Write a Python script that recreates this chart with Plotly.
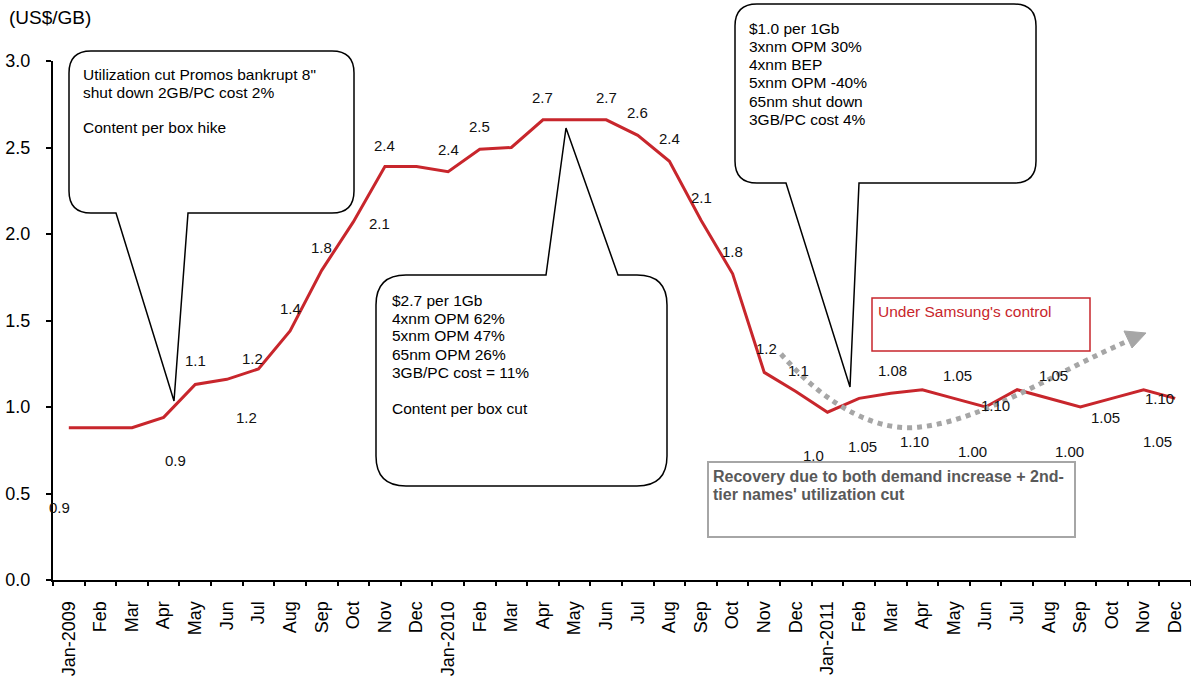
import plotly.graph_objects as go

# Monthly DRAM contract price, US$ per GB, Jan-2009 .. Dec-2011
months = ["Jan-2009", "Feb", "Mar", "Apr", "May", "Jun", "Jul", "Aug", "Sep", "Oct", "Nov", "Dec",
          "Jan-2010", "Feb", "Mar", "Apr", "May", "Jun", "Jul", "Aug", "Sep", "Oct", "Nov", "Dec",
          "Jan-2011", "Feb", "Mar", "Apr", "May", "Jun", "Jul", "Aug", "Sep", "Oct", "Nov", "Dec"]
price = [0.88, 0.88, 0.88, 0.94, 1.13, 1.16, 1.22, 1.44, 1.79, 2.07, 2.39, 2.39,
         2.36, 2.49, 2.50, 2.66, 2.66, 2.66, 2.57, 2.42, 2.08, 1.77, 1.20, 1.09,
         0.97, 1.05, 1.08, 1.10, 1.05, 1.00, 1.10, 1.05, 1.00, 1.05, 1.10, 1.05]

y_ticks = [0.0, 0.5, 1.0, 1.5, 2.0, 2.5, 3.0]

callout_left = ["Utilization cut Promos bankrupt 8\"", "shut down 2GB/PC cost 2%", "", "Content per box hike"]
callout_mid = ["$2.7 per 1Gb", "4xnm OPM 62%", "5xnm OPM 47%", "65nm OPM 26%", "3GB/PC cost = 11%", "",
               "Content per box cut"]
callout_right = ["$1.0 per 1Gb", "3xnm OPM 30%", "4xnm BEP", "5xnm OPM -40%", "65nm shut down",
                 "3GB/PC cost 4%"]
samsung_note = "Under Samsung's control"
recovery_note = ["Recovery due to both demand increase + 2nd-", "tier names' utilization cut"]

# where each value label sits relative to its point (category units, US$/GB)
label_offsets = {
    0: (-0.28, -0.46), 3: (0.36, -0.25), 4: (0.02, 0.14), 5: (0.61, -0.22), 6: (-0.20, 0.06),
    7: (0.0, 0.13), 8: (0.0, 0.13), 9: (0.84, -0.01), 10: (0.0, 0.12), 12: (0.0, 0.13),
    13: (0.0, 0.13), 15: (0.0, 0.13), 17: (0.0, 0.13), 18: (0.0, 0.13), 19: (0.0, 0.13),
    20: (0.0, 0.13), 21: (0.0, 0.13), 22: (0.06, 0.14), 23: (0.07, 0.12), 24: (-0.43, -0.25),
    25: (0.11, -0.28), 26: (0.07, 0.13), 27: (-0.24, -0.30), 28: (0.12, 0.13), 29: (-0.40, -0.26),
    30: (-0.67, -0.09), 31: (0.15, 0.13), 32: (-0.33, -0.26), 33: (-0.20, -0.11), 34: (0.50, -0.05),
    35: (-0.55, -0.25),
}

FONT = "Arial, Liberation Sans, sans-serif"
RED = "#C8262C"
GREY = "#A6A6A6"

W, H = 1191, 679
L, R, T, B = 53, 0, 61, 99
PW, PH = W - L - R, H - T - B


def px(x, y):
    """Page pixel position -> paper coordinates."""
    return (x - L) / PW, (H - B - y) / PH


def pt(x, y):
    a, b = px(x, y)
    return f"{a:.5f},{b:.5f}"


def bubble(x0, y0, x1, y1, r, side, ba, bb, tip):
    """Rounded box with a speech pointer on the top or bottom edge."""
    p = [f"M{pt(x0 + r, y0)}"]
    if side == "top":
        p += [f"L{pt(ba, y0)}", f"L{pt(*tip)}", f"L{pt(bb, y0)}"]
    p += [f"L{pt(x1 - r, y0)}", f"Q{pt(x1, y0)} {pt(x1, y0 + r)}",
          f"L{pt(x1, y1 - r)}", f"Q{pt(x1, y1)} {pt(x1 - r, y1)}"]
    if side == "bottom":
        p += [f"L{pt(bb, y1)}", f"L{pt(*tip)}", f"L{pt(ba, y1)}"]
    p += [f"L{pt(x0 + r, y1)}", f"Q{pt(x0, y1)} {pt(x0, y1 - r)}",
          f"L{pt(x0, y0 + r)}", f"Q{pt(x0, y0)} {pt(x0 + r, y0)}", "Z"]
    return dict(type="path", xref="paper", yref="paper", path=" ".join(p),
                line=dict(color="black", width=1.5), fillcolor="white", layer="above")


idx = list(range(len(months)))

fig = go.Figure()
fig.add_trace(go.Scatter(x=idx, y=price, mode="lines", line=dict(color=RED, width=3),
                         hoverinfo="skip", showlegend=False))
# secondary axis carrying the month-boundary tick marks
fig.add_trace(go.Scatter(x=[idx[0]], y=[price[0]], xaxis="x2", mode="markers",
                         marker=dict(opacity=0), hoverinfo="skip", showlegend=False))

shapes = [
    bubble(69, 51, 354, 213, 22, "bottom", 116, 188, (174, 401)),
    bubble(376, 275, 667, 486, 30, "top", 546, 618, (566, 128)),
    bubble(735, 4, 1036, 183, 22, "bottom", 786, 859, (850, 387)),
]

# red outlined note box
x0, y0 = px(872, 298)
x1, y1 = px(1090, 351)
shapes.append(dict(type="rect", xref="paper", yref="paper", x0=x0, y0=y0, x1=x1, y1=y1,
                   line=dict(color=RED, width=1.5), fillcolor="rgba(0,0,0,0)", layer="above"))
# grey outlined note box
x0, y0 = px(708, 462)
x1, y1 = px(1075, 537)
shapes.append(dict(type="rect", xref="paper", yref="paper", x0=x0, y0=y0, x1=x1, y1=y1,
                   line=dict(color=GREY, width=2), fillcolor="white", layer="above"))

# dotted recovery curve with arrow head
curve = (f"M{pt(781, 354)} C{pt(830, 410)} {pt(880, 432)} {pt(920, 427)} "
         f"C{pt(985, 420)} {pt(1060, 370)} {pt(1128, 341)}")
shapes.append(dict(type="path", xref="paper", yref="paper", path=curve,
                   line=dict(color=GREY, width=5, dash="dot"), layer="above"))
head = f"M{pt(1146, 333)} L{pt(1132, 348)} L{pt(1124, 331)} Z"
shapes.append(dict(type="path", xref="paper", yref="paper", path=head,
                   line=dict(color=GREY, width=1), fillcolor=GREY, layer="above"))

annotations = []


def text_lines(lines, x, y_first, step, size, color="black", bold=False):
    for i, s in enumerate(lines):
        if not s:
            continue
        ax, ay = px(x, y_first + i * step)
        annotations.append(dict(xref="paper", yref="paper", x=ax, y=ay, xanchor="left",
                                yanchor="middle", showarrow=False,
                                text=f"<b>{s}</b>" if bold else s,
                                font=dict(family=FONT, size=size, color=color)))


text_lines(callout_left, 81, 74, 18, 15.5)
text_lines(callout_mid, 390, 300, 18, 15.5)
text_lines(callout_right, 747, 28, 18.3, 15.5)
text_lines([samsung_note], 876, 311, 18, 15.5, color=RED)
text_lines(recovery_note, 711, 476, 18, 16, color="#595959", bold=True)

# value labels
for i, (dx, dy) in label_offsets.items():
    v = price[i]
    txt = f"{v:.1f}" if i <= 24 else f"{v:.2f}"
    annotations.append(dict(xref="x", yref="y", x=i + dx, y=v + dy, showarrow=False, text=txt,
                            font=dict(family=FONT, size=15, color="#111111")))

# unit label
ax, ay = px(7, 18)
annotations.append(dict(xref="paper", yref="paper", x=ax, y=ay, xanchor="left", yanchor="middle",
                        showarrow=False, text="(US$/GB)",
                        font=dict(family=FONT, size=19, color="black")))

xr = [-0.5, len(months) - 0.5]
fig.update_layout(
    width=W, height=H,
    margin=dict(l=L, r=R, t=T, b=B, pad=0),
    paper_bgcolor="white", plot_bgcolor="white",
    font=dict(family=FONT, color="black"),
    showlegend=False,
    xaxis=dict(range=xr, tickmode="array", tickvals=idx, ticktext=months, tickangle=-90,
               ticks="", showgrid=False, zeroline=False, showline=True, linecolor="black",
               linewidth=2, tickfont=dict(family=FONT, size=18, color="black"),
               ticklabelstandoff=12, fixedrange=True),
    xaxis2=dict(range=xr, overlaying="x", anchor="y", side="bottom", tickmode="array",
                tickvals=[k - 0.5 for k in range(len(months) + 1)], showticklabels=False,
                ticks="outside", ticklen=5, tickwidth=1.5, tickcolor="black",
                showgrid=False, zeroline=False, showline=False),
    yaxis=dict(range=[0, 3], tickmode="array", tickvals=y_ticks,
               ticktext=[f"{v:.1f}" for v in y_ticks], ticks="outside", ticklen=5,
               tickwidth=1.5, tickcolor="black", showgrid=False, zeroline=False, showline=True,
               linecolor="black", linewidth=2, tickfont=dict(family=FONT, size=18, color="black"),
               ticklabelstandoff=12, fixedrange=True),
    shapes=shapes,
    annotations=annotations,
)

fig.write_html("out.html")
